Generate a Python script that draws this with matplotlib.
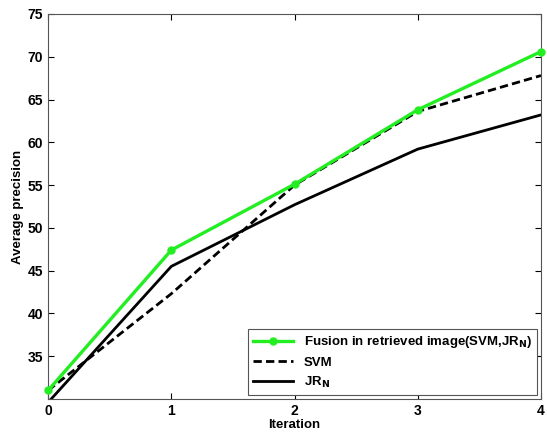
import matplotlib
matplotlib.use("Agg")
import matplotlib.pyplot as plt

iterations = [0, 1, 2, 3, 4]
fusion = [31.0, 47.4, 55.1, 63.8, 70.6]
svm = [31.0, 42.3, 55.0, 63.6, 67.8]
jrn = [29.6, 45.5, 52.7, 59.2, 63.2]
yticks = [35, 40, 45, 50, 55, 60, 65, 70, 75]

plt.rcParams['font.family'] = ['Liberation Sans', 'DejaVu Sans']
plt.rcParams['font.weight'] = 'bold'

fig = plt.figure(figsize=(5.47, 4.36), dpi=100)
ax = fig.add_axes([0.088, 0.085, 0.901, 0.883])

ax.plot(iterations, fusion, color='#22ee22', lw=2.4, marker='o', ms=5,
        label='Fusion in retrieved image(SVM,JR$_\\mathbf{N}$)', clip_on=False, zorder=3)
ax.plot(iterations, svm, color='black', lw=2.0, ls=(0, (3, 1.5)), label='SVM', zorder=2)
ax.plot(iterations, jrn, color='black', lw=2.0, label='JR$_\\mathbf{N}$', zorder=2)

ax.set_xlim(0, 4)
ax.set_ylim(30, 75)
ax.set_xticks(iterations)
ax.set_yticks(yticks)
ax.tick_params(direction='in', top=True, right=True, labelsize=10, length=4)
for lab in ax.get_xticklabels() + ax.get_yticklabels():
    lab.set_fontweight('bold')
ax.set_xlabel('Iteration', fontsize=9.5, fontweight='bold', labelpad=1)
ax.set_ylabel('Average precision', fontsize=9.5, fontweight='bold', labelpad=3)
for s in ax.spines.values():
    s.set_color('#555555')
    s.set_linewidth(0.8)

leg = ax.legend(loc='lower right', fontsize=9.5, fancybox=False, edgecolor='#555555',
                framealpha=1, borderaxespad=0.3, handlelength=3, labelspacing=0.45)
leg.get_frame().set_linewidth(0.8)
for t in leg.get_texts():
    t.set_fontweight('bold')

fig.savefig('out.png', dpi=100)
